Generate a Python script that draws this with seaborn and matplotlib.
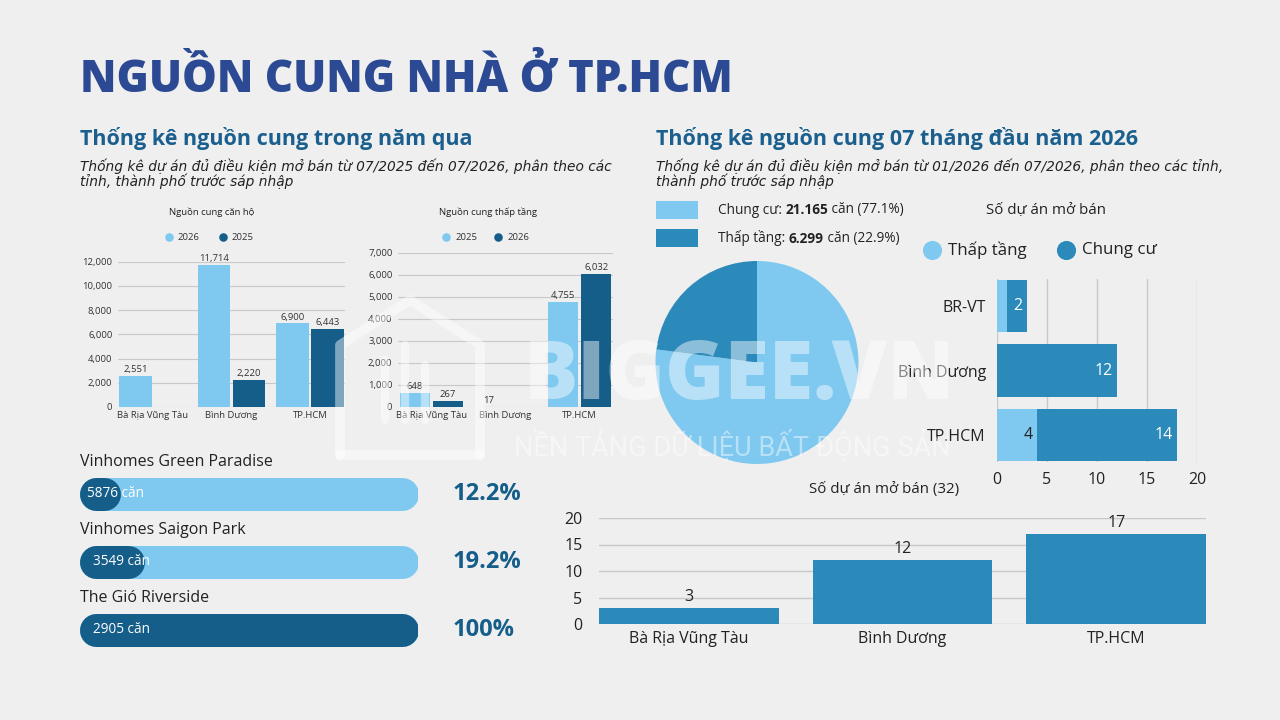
import matplotlib
matplotlib.use("Agg")
import matplotlib.pyplot as plt
import seaborn as sns
import pandas as pd

W, H = 1280, 720

BG = "#efefef"
LIGHT = "#7fc8ef"
DARK = "#155e8a"
MID = "#2b8aba"
TITLE_C = "#2c4a94"
HEAD_C = "#1a5f8e"
TXT = "#222222"
GRID = "#c8c8c8"

# data
regions = ["Bà Rịa Vũng Tàu", "Bình Dương", "TP.HCM"]
apt_2026 = [2551, 11714, 6900]
apt_2025 = [0, 2220, 6443]
low_2025 = [648, 17, 4755]
low_2026 = [267, 0, 6032]

pie_labels = ["Chung cư", "Thấp tầng"]
pie_units = [21165, 6299]

proj_regions = ["BR-VT", "Bình Dương", "TP.HCM"]
proj_low = [1, 0, 4]
proj_apt = [2, 12, 14]

open_counts = [3, 12, 17]

top_projects = ["Vinhomes Green Paradise", "Vinhomes Saigon Park", "The Gió Riverside"]
top_units = [5876, 3549, 2905]
top_pct = [12.2, 19.2, 100]

sns.set_theme(style="white")
plt.rcParams["font.family"] = ["Open Sans", "DejaVu Sans"]
plt.rcParams["text.color"] = TXT

fig = plt.figure(figsize=(12.8, 7.2), dpi=100, facecolor=BG)
canvas = fig.add_axes([0, 0, 1, 1])
canvas.set_xlim(0, W)
canvas.set_ylim(H, 0)
canvas.axis("off")


def px_axes(x0, y0, x1, y1):
    ax = fig.add_axes([x0 / W, 1 - y1 / H, (x1 - x0) / W, (y1 - y0) / H])
    ax.patch.set_alpha(0)
    return ax


def clean(ax):
    for s in ax.spines.values():
        s.set_visible(False)
    ax.set_xlabel("")
    ax.set_ylabel("")


# headings
canvas.text(80, 81, "NGUỒN CUNG NHÀ Ở TP.HCM", fontsize=31.5, weight="heavy",
            color=TITLE_C, va="center")
canvas.text(80, 138, "Thống kê nguồn cung trong năm qua", fontsize=15.5,
            weight="bold", color=HEAD_C, va="center")
canvas.text(656, 138, "Thống kê nguồn cung 07 tháng đầu năm 2026", fontsize=15.5,
            weight="bold", color=HEAD_C, va="center")
sub_font = ["DejaVu Sans"]
canvas.text(80, 174, "Thống kê dự án đủ điều kiện mở bán từ 07/2025 đến 07/2026, phân theo các\n"
            "tỉnh, thành phố trước sáp nhập", fontsize=9.95, style="italic",
            family=sub_font, va="center", linespacing=0.98)
canvas.text(656, 174, "Thống kê dự án đủ điều kiện mở bán từ 01/2026 đến 07/2026, phân theo các tỉnh,\n"
            "thành phố trước sáp nhập", fontsize=9.95, style="italic",
            family=sub_font, va="center", linespacing=0.98)


def grouped(ax, vals_a, vals_b, order, ymax, step):
    df = pd.DataFrame({"region": regions * 2,
                       "year": [order[0]] * 3 + [order[1]] * 3,
                       "value": vals_a + vals_b})
    sns.barplot(data=df, x="region", y="value", hue="year", hue_order=order,
                palette=[LIGHT, DARK], width=0.89, gap=0.08, saturation=1,
                linewidth=0, legend=False, ax=ax)
    ax.set_ylim(0, ymax)
    ax.set_yticks(range(0, ymax + 1, step))
    ax.set_yticklabels([f"{v:,}" for v in range(0, ymax + 1, step)])
    ax.yaxis.grid(True, color=GRID, lw=0.8)
    ax.set_axisbelow(True)
    ax.tick_params(axis="y", labelsize=6.8, colors="#333333", pad=4, length=0)
    ax.tick_params(axis="x", labelsize=6.8, colors="#333333", pad=3, length=0)
    clean(ax)
    for cont in ax.containers:
        for bar in cont:
            h = bar.get_height()
            if h > 0:
                ax.text(bar.get_x() + bar.get_width() / 2, h + ymax * 0.012,
                        f"{int(h):,}", ha="center", va="bottom", fontsize=6.8,
                        color="#333333")


ax1 = px_axes(118, 261.7, 345, 407)
grouped(ax1, apt_2026, apt_2025, ["2026", "2025"], 12000, 2000)
ax1.set_xlim(-0.446, 2.446)

ax2 = px_axes(398, 252.7, 613, 407)
grouped(ax2, low_2025, low_2026, ["2025", "2026"], 7000, 1000)
ax2.set_xlim(-0.45, 2.45)

canvas.text(212, 212, "Nguồn cung căn hộ", fontsize=6.8, ha="center", va="center")
canvas.text(488, 212, "Nguồn cung thấp tầng", fontsize=6.8, ha="center", va="center")
for x, lab, c in [(169, "2026", LIGHT), (223, "2025", DARK),
                  (446, "2025", LIGHT), (498, "2026", DARK)]:
    canvas.scatter([x], [237], s=38, color=c, lw=0)
    canvas.text(x + 9, 237, lab, fontsize=6.8, va="center", color="#333333")

# pie
axp = px_axes(655.5, 261, 858.5, 464)
axp.pie(pie_units, colors=[LIGHT, MID], startangle=90, counterclock=False,
        wedgeprops=dict(linewidth=0))
axp.set_xlim(-1, 1)
axp.set_ylim(-1, 1)

total_units = sum(pie_units)
for i, (lab, u, c) in enumerate(zip(pie_labels, pie_units, [LIGHT, MID])):
    yc = 210 + 28 * i
    canvas.add_patch(plt.Rectangle((656, yc - 9), 42, 18, color=c, lw=0))
    t1 = canvas.text(718, yc, f"{lab}: ", fontsize=9.8, va="center")
    t2 = canvas.annotate(f"{u:,}".replace(",", "."), xy=(1, 0), xycoords=t1,
                         va="bottom", fontsize=9.8, weight="bold")
    canvas.annotate(f" căn ({u / total_units * 100:.1f}%)", xy=(1, 0), xycoords=t2,
                    va="bottom", fontsize=9.8)

# horizontal stacked projects
dfh = pd.DataFrame({"region": proj_regions, "low": proj_low, "apt": proj_apt})
dfh["total"] = dfh["low"] + dfh["apt"]
axh = px_axes(997, 279, 1197, 462)
sns.barplot(data=dfh, x="total", y="region", color=MID, orient="h", width=0.82,
            saturation=1, linewidth=0, ax=axh)
sns.barplot(data=dfh, x="low", y="region", color=LIGHT, orient="h", width=0.82,
            saturation=1, linewidth=0, ax=axh)
axh.set_xlim(0, 20)
axh.set_ylim(2.42, -0.42)
axh.set_xticks([0, 5, 10, 15, 20])
axh.xaxis.grid(True, color=GRID, lw=1)
axh.set_axisbelow(True)
axh.tick_params(axis="y", labelsize=11.5, colors=TXT, pad=8, length=0)
axh.tick_params(axis="x", labelsize=11.5, colors=TXT, pad=7, length=0)
clean(axh)
for i, row in dfh.iterrows():
    axh.text(row["total"] - 0.45, i, str(row["apt"]), ha="right", va="center",
             fontsize=11.5, color="white")
    if row["low"] >= 2:
        axh.text(row["low"] - 0.45, i, str(row["low"]), ha="right", va="center",
                 fontsize=11.5, color=TXT)

canvas.text(1046, 210, "Số dự án mở bán", fontsize=10.8, ha="center", va="center")
for x, lab, c in [(932, "Thấp tầng", LIGHT), (1066, "Chung cư", MID)]:
    canvas.scatter([x], [250], s=190, color=c, lw=0)
    canvas.text(x + 16, 250, lab, fontsize=12.2, va="center")

# column chart
axc = px_axes(599, 518, 1206, 624)
sns.barplot(x=regions, y=open_counts, color=MID, width=0.84, saturation=1,
            linewidth=0, ax=axc)
axc.set_xlim(-0.42, 2.42)
axc.set_ylim(0, 20)
axc.set_yticks([0, 5, 10, 15, 20])
axc.yaxis.grid(True, color=GRID, lw=1)
axc.set_axisbelow(True)
axc.tick_params(axis="y", labelsize=11.5, colors=TXT, pad=12, length=0)
axc.tick_params(axis="x", labelsize=11.5, colors=TXT, pad=5, length=0)
clean(axc)
for i, v in enumerate(open_counts):
    axc.text(i, v + 0.6, str(v), ha="center", va="bottom", fontsize=11.5, color=TXT)
canvas.text(884, 489, f"Số dự án mở bán ({sum(open_counts)})", fontsize=10.8,
            ha="center", va="center")

# top projects progress bars
axb = px_axes(79, 440, 418, 650)
axb.set_xlim(0, 100)
axb.set_ylim(650, 440)
axb.axis("off")
r = 16.5 / 339 * 100
lw_pt = 33 * 72 / 100
for i, (name, u, p) in enumerate(zip(top_projects, top_units, top_pct)):
    yc = 493.5 + 68 * i
    axb.plot([r, 100 - r], [yc, yc], color=LIGHT, lw=lw_pt, solid_capstyle="round")
    axb.plot([r, max(p - r, r)], [yc, yc], color=DARK, lw=lw_pt, solid_capstyle="round")
    canvas.text(80, yc - 32, name, fontsize=11.5, va="center", color=TXT)
    axb.text(87 if i == 0 else 93, yc, f"{u} căn", fontsize=9.8, va="center",
             color="white", transform=canvas.transData)
    canvas.text(453, yc, f"{p:g}%", fontsize=17, weight="bold", va="center", color=DARK)

# watermark
ov = px_axes(0, 0, W, H)
ov.set_xlim(0, W)
ov.set_ylim(H, 0)
ov.axis("off")
house_x = [340, 340, 410, 480, 480]
house_y = [455, 345, 300, 345, 455]
ov.plot(house_x, house_y, color="white", alpha=0.45, lw=7, solid_joinstyle="round",
        solid_capstyle="round")
ov.plot([340, 480], [455, 455], color="white", alpha=0.45, lw=7, solid_capstyle="round")
for bx, top in [(385, 360), (405, 345), (425, 365)]:
    ov.plot([bx, bx], [top, 420], color="white", alpha=0.45, lw=6, solid_capstyle="round")
fig.text(740 / W, 1 - 378 / H, "BIGGEE.VN", fontsize=58, weight="heavy", color="white",
         alpha=0.45, ha="center", va="center", zorder=10)
fig.text(732 / W, 1 - 445 / H, "NỀN TẢNG DỮ LIỆU BẤT ĐỘNG SẢN", fontsize=19.5,
         family=["Roboto", "DejaVu Sans"], color="white", alpha=0.45, ha="center",
         va="center", zorder=10)

fig.savefig("out.png", dpi=100, facecolor=BG)
